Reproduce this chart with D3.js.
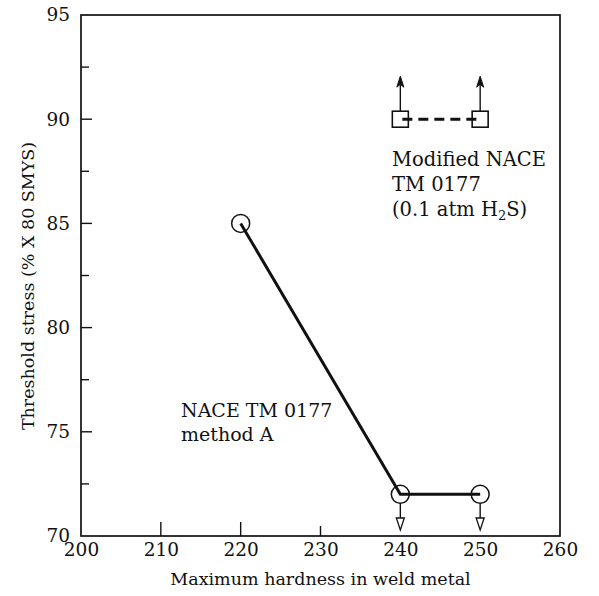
<!DOCTYPE html>
<html>
<head>
<meta charset="utf-8">
<script src="https://cdn.jsdelivr.net/npm/d3@7"></script>
<style>
html,body{margin:0;padding:0;background:#fff;}
svg{display:block;}
text{font-family:"DejaVu Serif","Liberation Serif",serif;fill:#111;}
</style>
</head>
<body>
<script>
// Data
const hardnessA = [220, 240, 250];
const stressA = [85, 72, 72];
const arrowDownHardness = [240, 250];
const hardnessMod = [240, 250];
const stressMod = [90, 90];
const xTickValues = [200, 210, 220, 230, 240, 250, 260];
const yTickValues = [70, 75, 80, 85, 90, 95];
const yMinorTicks = [72.5, 77.5, 82.5, 87.5, 92.5];
const xInnerTicks = [210, 220, 230];
const labelA = ["NACE TM 0177", "method A"];
const labelMod = ["Modified NACE", "TM 0177"];

const W = 599, H = 596;
const m = {left: 81, right: 39, top: 15, bottom: 60};
const svg = d3.select("body").append("svg").attr("width", W).attr("height", H);

const x = d3.scaleLinear().domain([200, 260]).range([m.left, W - m.right]);
const y = d3.scaleLinear().domain([70, 95]).range([H - m.bottom, m.top]);

// frame
svg.append("rect").attr("x", x(200)).attr("y", y(95))
  .attr("width", x(260) - x(200)).attr("height", y(70) - y(95))
  .attr("fill", "none").attr("stroke", "#111").attr("stroke-width", 1.7);

// y axis labels
const yAxis = d3.axisLeft(y).tickValues(yTickValues).tickSize(0).tickPadding(11);
const gy = svg.append("g").attr("transform", `translate(${x(200)},0)`).call(yAxis);
gy.select(".domain").remove();
gy.selectAll("text").style("font-size", "18.5px").style("font-family", "DejaVu Serif, serif").attr("fill", "#111");

// y inward ticks
svg.append("g").selectAll("line").data(yTickValues.filter(v => v > 70 && v < 95)).join("line")
  .attr("x1", x(200)).attr("x2", x(200) + 11).attr("y1", d => y(d)).attr("y2", d => y(d))
  .attr("stroke", "#111").attr("stroke-width", 1.4);
svg.append("g").selectAll("line").data(yMinorTicks).join("line")
  .attr("x1", x(200)).attr("x2", x(200) + 8).attr("y1", d => y(d)).attr("y2", d => y(d))
  .attr("stroke", "#111").attr("stroke-width", 1.4);

// x axis labels
const xAxis = d3.axisBottom(x).tickValues(xTickValues).tickSize(0).tickPadding(7);
const gx = svg.append("g").attr("transform", `translate(0,${y(70)})`).call(xAxis);
gx.select(".domain").remove();
gx.selectAll("text").style("font-size", "18.5px").style("font-family", "DejaVu Serif, serif").attr("fill", "#111");

svg.append("g").selectAll("line").data(xInnerTicks).join("line")
  .attr("x1", d => x(d)).attr("x2", d => x(d)).attr("y1", y(70)).attr("y2", d => y(70) - (d === 230 ? 10 : 14))
  .attr("stroke", "#111").attr("stroke-width", 1.4);

// axis titles
svg.append("text").attr("x", (x(200) + x(260)) / 2).attr("y", 585)
  .attr("text-anchor", "middle").style("font-size", "17.5px").text("Maximum hardness in weld metal");
svg.append("text").attr("transform", `translate(34,286) rotate(-90)`)
  .attr("text-anchor", "middle").style("font-size", "17.5px").text("Threshold stress (% X 80 SMYS)");

// Method A line
const line = d3.line().x((d, i) => x(hardnessA[i])).y(d => y(d));
svg.append("path").datum(stressA).attr("d", line)
  .attr("fill", "none").attr("stroke", "#111").attr("stroke-width", 3);

// down arrows
const r = 9;
const gd = svg.append("g");
arrowDownHardness.forEach(h => {
  const cx = x(h), top = y(72) + r, tip = y(70) - 6;
  gd.append("line").attr("x1", cx).attr("x2", cx).attr("y1", top).attr("y2", tip - 8)
    .attr("stroke", "#111").attr("stroke-width", 1.4);
  gd.append("path").attr("d", `M${cx - 4},${tip - 12} L${cx + 4},${tip - 12} L${cx},${tip} Z`)
    .attr("fill", "#fff").attr("stroke", "#111").attr("stroke-width", 1.3);
});

// circles
svg.append("g").selectAll("circle").data(stressA).join("circle")
  .attr("cx", (d, i) => x(hardnessA[i])).attr("cy", d => y(d)).attr("r", r)
  .attr("fill", "none").attr("stroke", "#111").attr("stroke-width", 1.5);

// Modified series
const lineMod = d3.line().x((d, i) => x(hardnessMod[i])).y(d => y(d));
svg.append("path").datum(stressMod).attr("d", lineMod)
  .attr("fill", "none").attr("stroke", "#111").attr("stroke-width", 3)
  .attr("stroke-dasharray", "10,6").attr("stroke-dashoffset", -2);

const s = 16;
svg.append("g").selectAll("rect").data(stressMod).join("rect")
  .attr("x", (d, i) => x(hardnessMod[i]) - s / 2).attr("y", d => y(d) - s / 2)
  .attr("width", s).attr("height", s)
  .attr("fill", "none").attr("stroke", "#111").attr("stroke-width", 1.6);

const gu = svg.append("g");
hardnessMod.forEach((h, i) => {
  const cx = x(h), bottom = y(stressMod[i]) - s / 2, tip = bottom - 35;
  gu.append("line").attr("x1", cx).attr("x2", cx).attr("y1", bottom).attr("y2", tip + 8)
    .attr("stroke", "#111").attr("stroke-width", 1.4);
  gu.append("path").attr("d", `M${cx - 3.5},${tip + 11} L${cx},${tip} L${cx + 3.5},${tip + 11} L${cx},${tip + 8} Z`)
    .attr("fill", "#111").attr("stroke", "#111").attr("stroke-width", 1);
});

// annotations
const ta = svg.append("text").style("font-size", "19px");
labelA.forEach((t, i) => {
  ta.append("tspan").attr("x", 181).attr("y", 417 + i * 24).text(t);
});
const tm = svg.append("text").style("font-size", "19.5px");
labelMod.forEach((t, i) => {
  tm.append("tspan").attr("x", 392).attr("y", 166 + i * 25).text(t);
});
const t3 = tm.append("tspan").attr("x", 392).attr("y", 216);
t3.append("tspan").text("(0.1 atm H");
t3.append("tspan").attr("dy", 4).style("font-size", "13px").text("2");
t3.append("tspan").attr("dy", -4).text("S)");
</script>
</body>
</html>
